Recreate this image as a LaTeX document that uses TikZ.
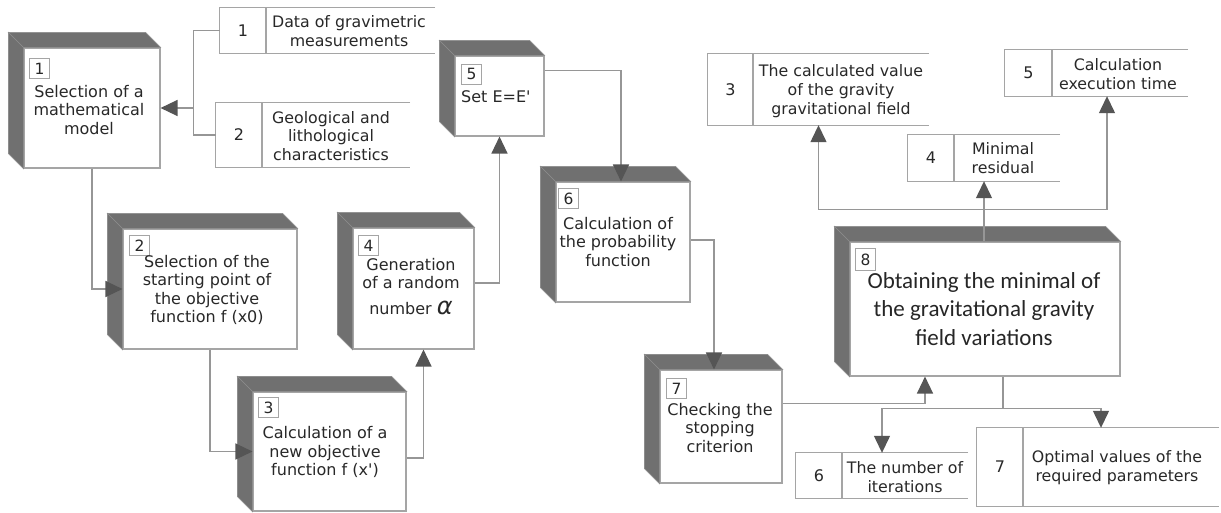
\documentclass[tikz,border=0pt]{standalone}
\usepackage{fontspec}
\setmainfont{DejaVu Sans}
\newfontfamily\calfont{Carlito}
\usetikzlibrary{arrows.meta,calc}
\definecolor{face}{RGB}{112,112,112}
\definecolor{edge}{RGB}{165,165,165}
\definecolor{conn}{RGB}{150,150,150}
\definecolor{tipc}{RGB}{85,85,85}
\definecolor{txt}{RGB}{40,40,40}
\tikzset{
  front/.style={draw=edge, line width=1.1pt, fill=white, inner sep=0pt},
  facefill/.style={fill=face, draw=face!80!white, line width=0.6pt},
  numbox/.style={draw=edge, line width=0.9pt, fill=white, minimum width=20pt, minimum height=20pt, inner sep=0pt, font=\fontsize{15.5}{15.5}\selectfont, text=txt},
  btext/.style={align=center, font=\fontsize{16}{18.6}\selectfont, text=txt, inner sep=0pt},
  bigtext/.style={align=center, font=\calfont\fontsize{23}{28.5}\selectfont, text=black!85, inner sep=0pt},
  stext/.style={align=center, font=\fontsize{15.8}{18.8}\selectfont, text=txt, inner sep=0pt},
  snum/.style={font=\fontsize{16}{16}\selectfont, text=txt, inner sep=0pt},
  storebox/.style={inner sep=0pt},
  storeline/.style={draw=edge, line width=1.1pt},
  cline/.style={draw=conn, line width=1.3pt},
  conn/.style={cline, -{Triangle[width=16pt,length=17pt,color=tipc]}},
}
% process box with 3D faces
\newcommand{\proc}[5]{%
  \node[front, minimum width={#4-#2}, minimum height={#5-#3}] (#1) at ({(#2+#4)/2},{(#3+#5)/2}) {};
  \path[facefill] ($(#1.north west)+(-15,-15)$) -- ($(#1.north east)+(-15,-15)$) -- (#1.north east) -- (#1.north west) -- cycle;
  \path[facefill] ($(#1.north west)+(-15,-15)$) -- (#1.north west) -- (#1.south west) -- ($(#1.south west)+(-15,-15)$) -- cycle;
}
% data store
\newcommand{\store}[7]{% name, xleft, xdiv, xright, ytop, ybottom, number
  \node[storebox, minimum width={#4-#2}, minimum height={#6-#5}] (#1) at ({(#2+#4)/2},{(#5+#6)/2}) {};
  \draw[storeline] (#1.north east) -- (#1.north west) -- (#1.south west) -- (#1.south east);
  \draw[storeline] (#3,#5) -- (#3,#6);
  \node[snum] (#1n) at ({(#2+#3)/2},{(#5+#6)/2}) {#7};
}
\begin{document}
\begin{tikzpicture}[x=1pt,y=-1pt]
\useasboundingbox[fill=white] (0,0) rectangle (1221,513);

% process boxes
\proc{b1}{24}{48}{160}{168}
\proc{b2}{123}{229}{297}{349}
\proc{b3}{253}{392}{406}{511}
\proc{b4}{353}{228}{474}{349}
\proc{b5}{455}{56}{544}{136}
\proc{b6}{556}{182}{690}{302}
\proc{b7}{660}{370}{782}{483}
\proc{b8}{850}{242}{1120}{376}

\node[numbox, anchor=north west] (b1n) at (29,58) {1};
\node[numbox, anchor=north west] (b2n) at (129,235) {2};
\node[numbox, anchor=north west] (b3n) at (258,397) {3};
\node[numbox, anchor=north west] (b4n) at (358,235) {4};
\node[numbox, anchor=north west] (b5n) at (461,64) {5};
\node[numbox, anchor=north west] (b6n) at (558,188) {6};
\node[numbox, anchor=north west] (b7n) at (666,378) {7};
\node[numbox, anchor=north west, minimum height=22pt] (b8n) at (855,248) {8};

\node[btext] (b1t) at (89,110) {Selection of a\\mathematical\\model};
\node[btext] (b2t) at (207,290) {Selection of the\\starting point of\\the objective\\function f (x0)};
\node[btext] (b3t) at (325,452) {Calculation of a\\new objective\\function f (x\textquotesingle)};
\node[btext, anchor=north] (b4t) at (411,258) {Generation\\of a random\\[7pt]number {\fontsize{24}{24}\selectfont\itshape α}};
\node[btext, anchor=west] (b5t) at (461,97) {Set E=E\textquotesingle};
\node[btext] (b6t) at (618,242) {Calculation of\\the probability\\function};
\node[btext] (b7t) at (720,428) {Checking the\\stopping\\criterion};
\node[bigtext] (b8t) at (984,309) {Obtaining the minimal of\\the gravitational gravity\\field variations};

% data stores
\store{s1}{220}{266}{435}{8}{53}{1}
\store{s2}{216}{262}{410}{103}{167}{2}
\store{s3}{708}{753}{929}{54}{125}{3}
\store{s4}{908}{954}{1060}{135}{181}{4}
\store{s5}{1005}{1052}{1188}{50}{96}{5}
\store{s6}{796}{842}{968}{453}{498}{6}
\store{s7}{977}{1023}{1219}{428}{506}{7}

\node[stext] (s1t) at (349,31) {Data of gravimetric\\measurements};
\node[stext] (s2t) at (331,136) {Geological and\\lithological\\characteristics};
\node[stext] (s3t) at (841,91) {The calculated value\\of the gravity\\gravitational field};
\node[stext] (s4t) at (1003,158) {Minimal\\residual};
\node[stext] (s5t) at (1118,74) {Calculation\\execution time};
\node[stext] (s6t) at (905,477) {The number of\\iterations};
\node[stext] (s7t) at (1117,468) {Optimal values of the\\required parameters};

% connectors
\coordinate (j0) at ($(b1.east)+(33,0)$);
\draw[cline] (s1.west) -| (j0);
\draw[cline] (s2.west) -| (j0);
\draw[conn] (j0) -- (b1.east);

\draw[conn] (b1.south) |- (b2.west);
\draw[conn] (b2.south) |- (b3.west);
\draw[conn] ($(b3.east)+(0,6.5)$) -| ($(b4.south)+(10,0)$);
\draw[conn] ($(b4.east)+(0,-5.5)$) -| (b5.south);
\draw[conn] ($(b5.north east)+(0,15)$) -| ($(b6.north)+(-2,0)$);
\draw[conn] ($(b6.east)+(0,-2)$) -| ($(b7.north)+(-7,0)$);
\draw[conn] ($(b7.north east)+(0,34)$) -| ($(b8.south)+(-60,0)$);

\coordinate (j1) at ($(b8.north)+(-1,-32)$);
\draw[conn] ($(b8.north)+(-1,0)$) -- (s4.south);
\draw[conn] (j1) -| (s3.south);
\draw[conn] (j1) -| ($(s5.south)+(10.5,0)$);

\coordinate (j2) at ($(b8.south)+(18,32)$);
\draw[cline] ($(b8.south)+(18,0)$) -- (j2);
\draw[conn] (j2) -| (s6.north);
\draw[conn] (j2) -| ($(s7.north)+(3,0)$);
\end{tikzpicture}
\end{document}
